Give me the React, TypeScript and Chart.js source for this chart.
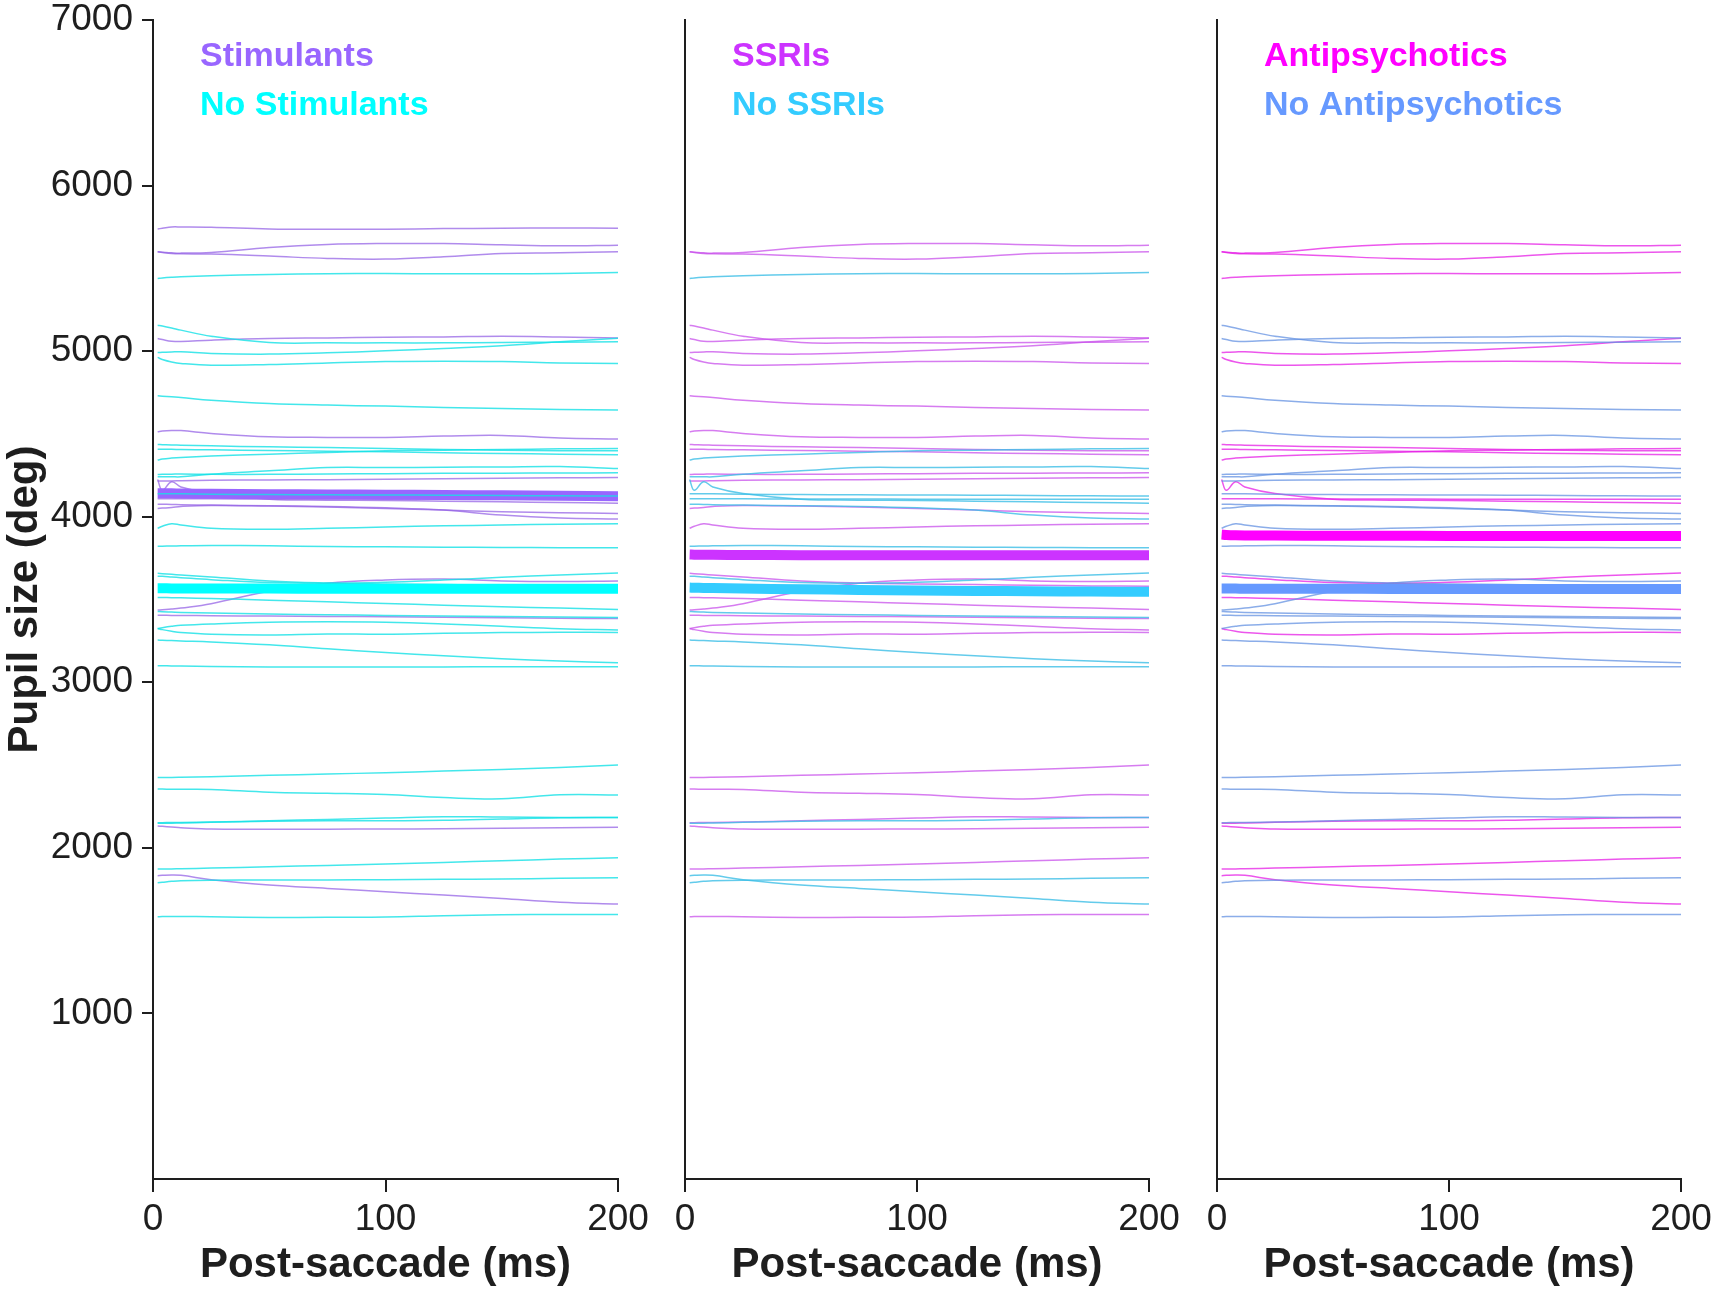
import { useEffect, useRef } from "react";
import { Chart, registerables } from "chart.js";
Chart.register(...registerables);

// sample times (ms after saccade end)
const TIME_MS = [2, 4, 8, 12, 25, 50, 75, 100, 125, 150, 175, 200];

// individual subject traces, pupil size (same subjects in every panel)
const S01 = [5738, 5742, 5750, 5750, 5748, 5738, 5736, 5736, 5740, 5742, 5744, 5742];
const S02 = [5600, 5598, 5594, 5592, 5596, 5626, 5644, 5650, 5650, 5642, 5636, 5640];
const S03 = [5600, 5596, 5590, 5588, 5586, 5574, 5560, 5556, 5570, 5590, 5594, 5600];
const S04 = [5439, 5442, 5446, 5449, 5455, 5463, 5467, 5469, 5467, 5467, 5469, 5475];
const S05 = [5157, 5152, 5140, 5127, 5090, 5052, 5050, 5050, 5050, 5052, 5054, 5056];
const S06 = [5076, 5070, 5060, 5058, 5066, 5076, 5080, 5084, 5086, 5090, 5086, 5080];
const S07 = [4992, 4993, 4995, 4996, 4986, 4982, 4990, 5002, 5016, 5032, 5056, 5078];
const S08 = [4962, 4950, 4935, 4926, 4915, 4919, 4929, 4937, 4939, 4937, 4929, 4926];
const S09 = [4730, 4728, 4724, 4720, 4704, 4684, 4674, 4668, 4660, 4654, 4648, 4644];
const S10 = [4513, 4518, 4521, 4520, 4503, 4483, 4479, 4479, 4487, 4491, 4475, 4469];
const S11 = [4436, 4435, 4433, 4432, 4428, 4422, 4418, 4412, 4406, 4402, 4398, 4398];
const S12 = [4408, 4408, 4407, 4406, 4404, 4400, 4396, 4392, 4386, 4382, 4378, 4374];
const S13 = [4342, 4348, 4354, 4358, 4366, 4378, 4388, 4398, 4402, 4406, 4410, 4412];
const S14 = [4241, 4241, 4241, 4241, 4257, 4277, 4297, 4297, 4299, 4301, 4303, 4291];
const S15 = [4255, 4256, 4257, 4258, 4256, 4256, 4258, 4260, 4262, 4263, 4264, 4265];
const S16 = [4215, 4216, 4216, 4217, 4220, 4222, 4224, 4226, 4229, 4232, 4235, 4237];
const S17 = [4225, 4160, 4211, 4180, 4140, 4106, 4100, 4098, 4094, 4090, 4086, 4082];
const S18 = [4139, 4139, 4138, 4138, 4136, 4134, 4132, 4131, 4130, 4128, 4126, 4125];
const S19 = [4109, 4109, 4108, 4108, 4108, 4107, 4107, 4106, 4106, 4106, 4105, 4105];
const S20 = [4076, 4075, 4074, 4072, 4070, 4066, 4062, 4054, 4040, 4010, 3992, 3986];
const S21 = [4050, 4052, 4056, 4062, 4068, 4064, 4058, 4050, 4040, 4030, 4024, 4020];
const S22 = [3930, 3942, 3958, 3950, 3930, 3924, 3930, 3938, 3945, 3950, 3955, 3958];
const S23 = [3822, 3822, 3823, 3824, 3826, 3824, 3820, 3818, 3816, 3814, 3813, 3812];
const S24 = [3658, 3656, 3652, 3648, 3636, 3612, 3600, 3594, 3590, 3586, 3582, 3580];
const S25 = [3641, 3640, 3636, 3632, 3620, 3602, 3598, 3604, 3618, 3634, 3648, 3660];
const S26 = [3436, 3438, 3442, 3448, 3475, 3550, 3598, 3618, 3624, 3612, 3608, 3611];
const S27 = [3512, 3512, 3511, 3510, 3506, 3496, 3486, 3476, 3466, 3456, 3448, 3440];
const S28 = [3428, 3426, 3424, 3422, 3418, 3412, 3408, 3404, 3400, 3397, 3394, 3392];
const S29 = [3405, 3405, 3404, 3404, 3402, 3400, 3398, 3396, 3393, 3390, 3387, 3385];
const S30 = [3325, 3330, 3338, 3344, 3352, 3362, 3365, 3362, 3352, 3338, 3324, 3316];
const S31 = [3325, 3318, 3308, 3300, 3290, 3286, 3292, 3290, 3296, 3300, 3302, 3301];
const S32 = [3255, 3254, 3252, 3250, 3244, 3226, 3202, 3180, 3160, 3142, 3128, 3118];
const S33 = [3100, 3100, 3099, 3098, 3096, 3093, 3092, 3092, 3093, 3094, 3094, 3094];
const S34 = [2425, 2425, 2425, 2426, 2430, 2438, 2446, 2454, 2464, 2474, 2486, 2500];
const S35 = [2355, 2355, 2354, 2354, 2353, 2336, 2330, 2322, 2304, 2296, 2320, 2319];
const S36 = [2152, 2152, 2153, 2153, 2156, 2164, 2172, 2180, 2188, 2186, 2184, 2184];
const S37 = [2148, 2148, 2149, 2150, 2154, 2160, 2163, 2164, 2166, 2174, 2182, 2184];
const S38 = [2132, 2130, 2126, 2122, 2114, 2113, 2113, 2114, 2115, 2118, 2122, 2124];
const S39 = [1872, 1872, 1873, 1874, 1878, 1886, 1894, 1902, 1912, 1922, 1932, 1940];
const S40 = [1832, 1834, 1836, 1834, 1808, 1775, 1755, 1735, 1715, 1694, 1672, 1661];
const S41 = [1789, 1792, 1798, 1802, 1805, 1806, 1806, 1808, 1810, 1812, 1816, 1820];
const S42 = [1584, 1585, 1586, 1586, 1584, 1580, 1581, 1582, 1590, 1596, 1598, 1598];

const SUBJECTS = [
  S01, S02, S03, S04, S05, S06, S07, S08, S09, S10, S11, S12, S13, S14,
  S15, S16, S17, S18, S19, S20, S21, S22, S23, S24, S25, S26, S27, S28,
  S29, S30, S31, S32, S33, S34, S35, S36, S37, S38, S39, S40, S41, S42,
];

// group membership per subject: 1 = on medication, 0 = not, null = not shown
const ON_STIMULANTS = [1, 1, 1, 0, 0, 1, 0, 0, 0, 1, 0, 0, 0, 0, 0, 1, 1, 0, 1, 1, 1, 0, 0, 0, 0, 1, 0, 0, 1, 0, 0, 0, 0, 0, 0, 0, 0, 1, 0, 1, 0, 0];
const ON_SSRIS = [null, 1, 1, 0, 1, 1, 1, 1, 1, 1, 1, 1, 0, 0, 1, 1, 0, 0, 0, 0, 1, 1, 0, 1, 0, 1, 1, 0, 1, 1, 1, 0, 0, 1, 1, 1, 0, 1, 1, 0, 0, 1];
const ON_ANTIPSYCHOTICS = [null, 1, 1, 1, 0, 0, 1, 1, 0, 0, 1, 1, 1, 0, 0, 0, 1, 0, 1, 0, 0, 0, 0, 0, 1, 0, 1, 0, 0, 0, 1, 0, 0, 0, 0, 0, 1, 1, 1, 1, 0, 0];

// group means (thick traces)
const MEAN_STIM = [4142, 4142, 4141, 4140, 4138, 4136, 4134, 4133, 4131, 4129, 4127, 4124];
const MEAN_NO_STIM = [3568, 3568, 3567, 3567, 3566, 3566, 3565, 3565, 3565, 3565, 3565, 3565];
const MEAN_SSRI = [3772, 3771, 3770, 3770, 3769, 3768, 3768, 3768, 3768, 3768, 3768, 3768];
const MEAN_NO_SSRI = [3572, 3571, 3570, 3569, 3566, 3562, 3558, 3555, 3552, 3550, 3548, 3547];
const MEAN_AP = [3892, 3890, 3888, 3887, 3886, 3885, 3885, 3884, 3884, 3884, 3884, 3884];
const MEAN_NO_AP = [3566, 3566, 3566, 3565, 3565, 3565, 3564, 3564, 3564, 3564, 3564, 3563];

const Y_TICKS = [1000, 2000, 3000, 4000, 5000, 6000, 7000];
const X_TICKS = [0, 100, 200];

const FONT = "'Liberation Sans Narrow', 'Arial Narrow', 'Liberation Sans', Arial, sans-serif";
const INK = "#1e1e1e";

type Panel = {
  left: number;
  width: number;
  axisWidth: number;
  padRight: number;
  showY: boolean;
  member: (number | null)[];
  onLabel: string;
  offLabel: string;
  onColor: string;
  offColor: string;
  onThin: string;
  offThin: string;
  onMean: number[];
  offMean: number[];
};

const PANELS: Panel[] = [
  {
    left: 0, width: 650, axisWidth: 153, padRight: 32, showY: true,
    member: ON_STIMULANTS, onLabel: "Stimulants", offLabel: "No Stimulants",
    onColor: "#9966ff", offColor: "#00ffff",
    onThin: "rgba(150,100,230,0.75)", offThin: "rgba(20,225,230,0.8)",
    onMean: MEAN_STIM, offMean: MEAN_NO_STIM,
  },
  {
    left: 650, width: 533, axisWidth: 35, padRight: 34, showY: false,
    member: ON_SSRIS, onLabel: "SSRIs", offLabel: "No SSRIs",
    onColor: "#cc33ff", offColor: "#33ccff",
    onThin: "rgba(200,80,235,0.75)", offThin: "rgba(60,190,230,0.8)",
    onMean: MEAN_SSRI, offMean: MEAN_NO_SSRI,
  },
  {
    left: 1183, width: 530, axisWidth: 34, padRight: 32, showY: false,
    member: ON_ANTIPSYCHOTICS, onLabel: "Antipsychotics", offLabel: "No Antipsychotics",
    onColor: "#ff00ff", offColor: "#6699ff",
    onThin: "rgba(230,30,230,0.75)", offThin: "rgba(100,145,225,0.75)",
    onMean: MEAN_AP, offMean: MEAN_NO_AP,
  },
];

const toPoints = (vals: number[]) => TIME_MS.map((t, i) => ({ x: t, y: vals[i] }));

function PanelChart({ p }: { p: Panel }) {
  const ref = useRef<HTMLCanvasElement | null>(null);

  useEffect(() => {
    if (!ref.current) return;

    const thin = (vals: number[], color: string) => ({
      data: toPoints(vals), borderColor: color, borderWidth: 1.5,
      pointRadius: 0, tension: 0.4, fill: false,
    });
    const thick = (vals: number[], color: string) => ({
      data: toPoints(vals), borderColor: color, borderWidth: 10,
      pointRadius: 0, tension: 0.4, fill: false,
    });

    const onSet = SUBJECTS.filter((_, i) => p.member[i] === 1);
    const offSet = SUBJECTS.filter((_, i) => p.member[i] === 0);

    // dataset 0 is painted last: "off" group sits above the "on" group
    const datasets = [
      thick(p.offMean, p.offColor),
      ...offSet.map((s) => thin(s, p.offThin)),
      thick(p.onMean, p.onColor),
      ...onSet.map((s) => thin(s, p.onThin)),
    ];

    const legendPlugin = {
      id: "groupLegend",
      afterDraw(chart: Chart) {
        const { ctx, chartArea } = chart;
        ctx.save();
        ctx.font = `bold 34px ${FONT}`;
        ctx.textAlign = "left";
        ctx.textBaseline = "alphabetic";
        ctx.fillStyle = p.onColor;
        ctx.fillText(p.onLabel, chartArea.left + 47, 66);
        ctx.fillStyle = p.offColor;
        ctx.fillText(p.offLabel, chartArea.left + 47, 115);
        ctx.restore();
      },
    };

    const chart = new Chart(ref.current, {
      type: "line",
      data: { datasets },
      options: {
        responsive: false,
        animation: false,
        layout: { padding: { top: 20, right: p.padRight, left: 0, bottom: 0 } },
        plugins: { legend: { display: false }, tooltip: { enabled: false } },
        scales: {
          x: {
            type: "linear",
            min: 0,
            max: 200,
            afterBuildTicks: (s: any) => { s.ticks = X_TICKS.map((v) => ({ value: v })); },
            afterFit: (s: any) => { s.height = 117; s.paddingLeft = 0; s.paddingRight = 0; },
            ticks: { font: { family: FONT, size: 37 }, color: INK, padding: 6, maxRotation: 0 },
            grid: { drawOnChartArea: false, drawTicks: true, tickLength: 13, color: INK, lineWidth: 2 },
            border: { display: true, color: INK, width: 2 },
            title: {
              display: true, text: "Post-saccade (ms)", color: INK,
              font: { family: FONT, size: 42, weight: "bold" }, padding: { top: 0, bottom: 5 },
            },
          },
          y: {
            type: "linear",
            min: 0,
            max: 7000,
            afterBuildTicks: (s: any) => { s.ticks = [0, ...Y_TICKS].map((v) => ({ value: v })); },
            afterFit: (s: any) => { s.width = p.axisWidth; s.paddingTop = 0; s.paddingBottom = 0; },
            ticks: {
              display: p.showY,
              font: { family: FONT, size: 37 }, color: INK, padding: 9,
              callback: (v: any) => (v === 0 ? "" : String(v)),
            },
            grid: {
              display: p.showY, drawOnChartArea: false, drawTicks: true, tickLength: 11, lineWidth: 2,
              color: (c: any) => (c.tick && c.tick.value === 0 ? "rgba(0,0,0,0)" : INK),
            },
            border: { display: true, color: INK, width: 2 },
            title: {
              display: p.showY, text: "Pupil size (deg)", color: INK,
              font: { family: FONT, size: 42, weight: "bold", lineHeight: 1.05 }, padding: { top: 3, bottom: 0 },
            },
          },
        },
      },
      plugins: [legendPlugin],
    } as any);

    return () => chart.destroy();
  }, [p]);

  return (
    <canvas
      ref={ref}
      width={p.width}
      height={1296}
      style={{ position: "absolute", left: p.left, top: 0, width: p.width, height: 1296 }}
    />
  );
}

export default function App() {
  return (
    <div style={{ position: "absolute", left: 0, top: 0, width: 1713, height: 1296, background: "#fff" }}>
      {PANELS.map((p, i) => (
        <PanelChart key={i} p={p} />
      ))}
    </div>
  );
}
